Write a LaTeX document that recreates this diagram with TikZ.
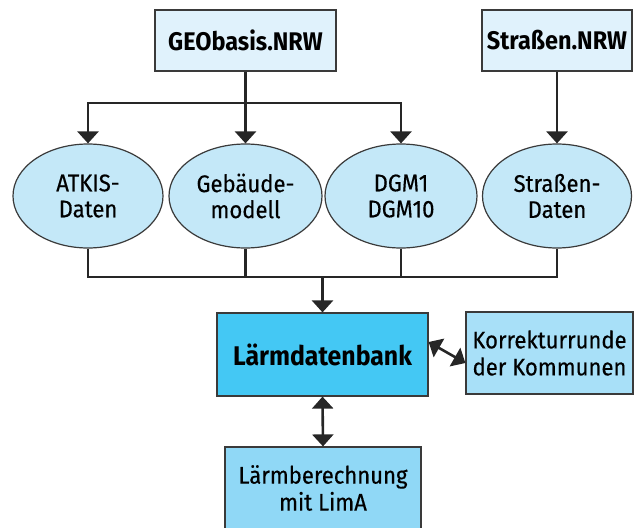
\documentclass[tikz,border=0pt]{standalone}
\usepackage{fontspec}
\setmainfont{Fira Sans}[FakeStretch=0.92, UprightFeatures={FakeBold=0.4}]
\usetikzlibrary{positioning,arrows.meta,shapes.geometric}
\definecolor{srcblue}{HTML}{E0F2FC}
\definecolor{dataBlue}{HTML}{C4E8F8}
\definecolor{dbblue}{HTML}{44C8F4}
\definecolor{korrblue}{HTML}{A8E0F8}
\definecolor{calcblue}{HTML}{90D8F6}
\definecolor{edge}{HTML}{3A3A3A}
\tikzset{
	srcbox/.style = {draw=edge, fill=srcblue, line width=1.2pt,
	 minimum width=181pt, minimum height=61pt, font=\fontsize{25.5}{28}\selectfont\bfseries},
	datanode/.style = {ellipse, draw=edge, fill=dataBlue, line width=1.2pt,
	 minimum width=150pt, minimum height=104pt, inner sep=0pt, align=center,
	 font=\fontsize{24}{26}\selectfont},
	procbox/.style = {draw=edge, line width=1.2pt, align=center,
	 minimum height=82pt, font=\fontsize{24}{27}\selectfont},
	conn/.style = {line width=2.6pt, draw=black!85},
	tip/.style = {-{Triangle[width=21pt,length=12pt]}},
	dtip/.style = {{Triangle[width=21pt,length=12pt]}-{Triangle[width=21pt,length=12pt]}}
}

\begin{document}
\begin{tikzpicture}[x=1pt, y=-1pt]
\useasboundingbox (0,0) rectangle (634,527);
\clip (0,0) rectangle (634,527);

% NODES
% sources
\node (geo) [srcbox] at (245.5,40.5) {GEObasis.NRW};
\node (snrw) [srcbox, minimum width=150pt] at (557,40.5) {Straßen.NRW};
% data sets
\node (atkis) [datanode] at (88,196) {ATKIS-\\Daten};
\node (geb) [datanode, minimum width=153pt] at (245.5,196) {Gebäude-\\modell};
\node (dgm) [datanode, minimum width=152pt] at (401,196) {DGM1\\DGM10};
\node (strd) [datanode, minimum width=149pt] at (557,196) {Straßen-\\Daten};
% data base, output
\node (db) [procbox, fill=dbblue, minimum width=211pt, minimum height=83pt,
	font=\fontsize{27}{30}\selectfont\bfseries] at (322.5,354.5) {Lärmdatenbank};
\node (korr) [procbox, fill=korrblue, minimum width=167pt] at (549.5,353)
	{Korrekturrunde\\der Kommunen};
\node (calc) [procbox, fill=calcblue, minimum width=196pt] at (323,488)
	{Lärmberechnung\\mit LimA};

% junctions
\coordinate (split) at (245.5,103);
\coordinate (merge) at (322.5,277);

%CONNECTIONS
\draw [conn] (geo.south) -- (split);
\draw [conn, tip] (split) -| (atkis.north);
\draw [conn, tip] (split) -- (geb.north);
\draw [conn, tip] (split) -| (dgm.north);
\draw [conn, tip] (snrw.south) -- (strd.north);
\draw [conn] (atkis.south) |- (strd.south |- merge) -- (strd.south);
\draw [conn] (geb.south) -- (geb.south |- merge);
\draw [conn] (dgm.south) -- (dgm.south |- merge);
\draw [conn, tip] (merge) -- (db.north);
\draw [conn, dtip] ([yshift=12.5pt]db.east) -- ([yshift=-10pt]korr.west);
\draw [conn, dtip] (db.south) -- (calc.north);

\end{tikzpicture}
\end{document}
